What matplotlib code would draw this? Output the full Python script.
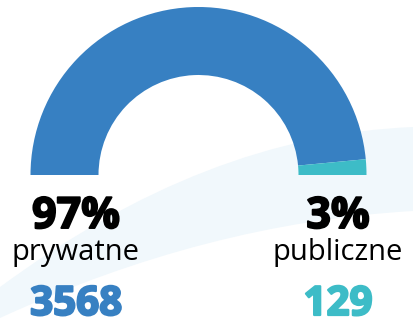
import matplotlib
matplotlib.use("Agg")
import matplotlib.pyplot as plt
import matplotlib.patheffects as pe
from matplotlib.path import Path
from matplotlib.patches import PathPatch

# Shares and counts for the two school types
labels = ["prywatne", "publiczne"]
percents = [97, 3]
counts = [3568, 129]
colors = ["#3780c2", "#3dbcc7"]

W, H = 413, 324
fig = plt.figure(figsize=(W / 100, H / 100), dpi=100)
ax = fig.add_axes([0, 0, 1, 1])

# pale background swoosh
swoosh = Path(
    [(0, 287), (206, 135), (413, 127), (413, 211), (206, 223), (0, 318), (0, 287)],
    [Path.MOVETO, Path.CURVE3, Path.CURVE3, Path.LINETO, Path.CURVE3, Path.CURVE3, Path.CLOSEPOLY],
)
ax.add_patch(PathPatch(swoosh, facecolor="#f1f8fc", edgecolor="none", zorder=0))

# half donut: the hidden slice fills the lower half
wedges, _ = ax.pie(
    percents + [sum(percents)],
    colors=colors + ["none"],
    startangle=180,
    counterclock=True,
    radius=168,
    center=(198.5, 175),
    wedgeprops=dict(width=68, linewidth=0),
    frame=True,
)
wedges[-1].set_visible(False)

ax.set_xlim(0, W)
ax.set_ylim(H, 0)
ax.set_aspect("equal")
ax.axis("off")

font = "Open Sans"
xs = [76, 338]
for x, lab, pct, cnt, col in zip(xs, labels, percents, counts, colors):
    ax.text(x, 228, f"{pct}%", ha="center", va="baseline", fontsize=31,
            fontweight="bold", family=font, color="black",
            path_effects=[pe.withStroke(linewidth=1.4, foreground="black")])
    ax.text(x, 260, lab, ha="center", va="baseline", fontsize=21,
            family=font, color="black")
    ax.text(x, 315, str(cnt), ha="center", va="baseline", fontsize=29,
            fontweight="bold", family=font, color=col,
            path_effects=[pe.withStroke(linewidth=1.6, foreground=col)])

fig.savefig("out.png", dpi=100)
